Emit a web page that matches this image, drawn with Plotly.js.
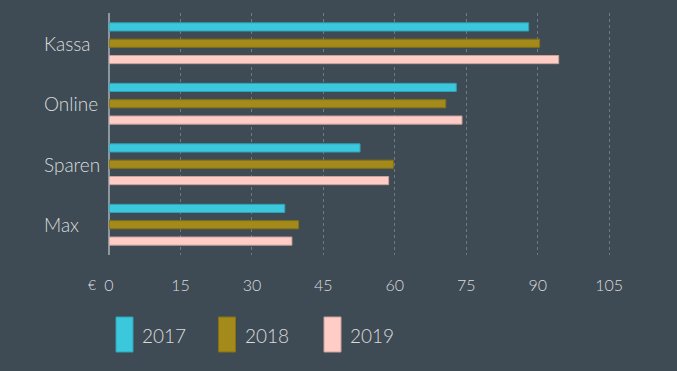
<!DOCTYPE html>
<html><head><meta charset="utf-8">
<script src="https://cdn.plot.ly/plotly-3.0.1.min.js"></script>
<style>html,body{margin:0;padding:0;background:#3e4a54;}</style>
</head><body><div id="chart" style="width:677px;height:371px;"></div>
<script>
var categories = ["Kassa", "Online", "Sparen", "Max"];
var years = ["2017", "2018", "2019"];
var values2017 = [88.1, 72.9, 52.7, 36.9];
var values2018 = [90.4, 70.7, 59.7, 39.8];
var values2019 = [94.4, 74.1, 58.7, 38.4];
var tickVals = [0, 15, 30, 45, 60, 75, 90, 105];
var tickLabels = ["0", "15", "30", "45", "60", "75", "90", "105"];
var colors = ["#3cc8dc", "#a38a1a", "#ffcdc5"];
var borders = ["#2ea3b5", "#857014", "#c9a19b"];

var W = 677, H = 371, ml = 109, mr = 44, mt = 13, mb = 116;
var pw = W - ml - mr, ph = H - mt - mb;
function px2x(p){ return (p - ml) / pw; }
function py2y(p){ return (H - mb - p) / ph; }

var series = [values2017, values2018, values2019];
var traces = series.map(function(v, i){
  return {type:'bar', orientation:'h', name: years[i], x: v, y: categories,
    marker:{color: colors[i], line:{color: borders[i], width:1}},
    hoverinfo:'x'};
});

var txtColor = "#d9dcde";
var fam = "Lato, 'Open Sans', sans-serif";
var font = {family:fam, size:16, color:txtColor, weight:300};

var annotations = categories.map(function(c){
  return {xref:'paper', x: px2x(42), xanchor:'left', yref:'y', y:c, text:c,
    showarrow:false, font:{family:fam, size:19, color:txtColor, weight:300}};
});
annotations.push({xref:'x', x:0, xshift:-11, xanchor:'right', yref:'paper', y:py2y(284), yanchor:'middle',
  text:'€', showarrow:false, font:{family:fam, size:14, color:txtColor, weight:300}});

var legendX = [116, 218.5, 324];
var shapes = [];
years.forEach(function(y, i){
  shapes.push({type:'rect', xref:'paper', yref:'paper',
    x0:px2x(legendX[i]), x1:px2x(legendX[i]+17), y0:py2y(352), y1:py2y(317),
    fillcolor:colors[i], line:{color:borders[i], width:1}});
  annotations.push({xref:'paper', yref:'paper', x:px2x(legendX[i]+24), xanchor:'left',
    y:py2y(335.5), yanchor:'middle', text:y, showarrow:false,
    font:{family:fam, size:19, color:txtColor, weight:300}});
});

var layout = {
  width:W, height:H, margin:{l:ml, r:mr, t:mt, b:mb, pad:0},
  paper_bgcolor:"#3e4a54", plot_bgcolor:"#3e4a54",
  font:font, showlegend:false,
  barmode:'group', bargap:0.19, bargroupgap:0.5,
  xaxis:{range:[0,110], tickvals:tickVals, ticktext:tickLabels, showgrid:true,
    gridcolor:"#6e7a84", griddash:'dot', gridwidth:1, zeroline:true, zerolinecolor:"#8d979f",
    zerolinewidth:1.5, ticks:'', ticklabelstandoff:19, tickfont:{family:fam, size:16, color:txtColor, weight:300},
    fixedrange:true},
  yaxis:{autorange:'reversed', showticklabels:false, showgrid:false, zeroline:false, ticks:'',
    fixedrange:true},
  annotations:annotations, shapes:shapes
};
Plotly.newPlot('chart', traces, layout, {displayModeBar:false, staticPlot:true});
</script></body></html>
